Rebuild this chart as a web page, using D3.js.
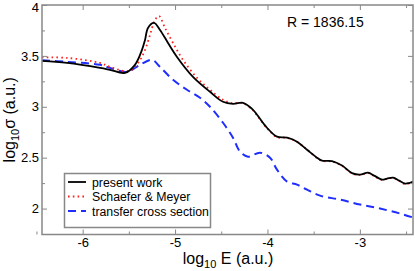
<!DOCTYPE html>
<html>
<head>
<meta charset="utf-8">
<script src="https://cdn.jsdelivr.net/npm/d3@7"></script>
<style>
  body { margin: 0; background: #fff; }
</style>
</head>
<body>
<svg id="chart" width="415" height="271"></svg>
<script>
// log10 E values and log10 sigma values
const presentX = [-6.44, -6.169, -5.812, -5.704, -5.542, -5.434, -5.358, -5.325, -5.293, -5.228, -5.163, -5.076, -4.979, -4.806, -4.622, -4.481, -4.373, -4.265, -4.167, -4.113, -4.005, -3.897, -3.788, -3.68, -3.572, -3.464, -3.41, -3.302, -3.193, -3.085, -2.998, -2.912, -2.846, -2.76, -2.706, -2.641, -2.576, -2.512, -2.468, -2.425];
const presentY = [3.451, 3.431, 3.382, 3.363, 3.333, 3.412, 3.559, 3.657, 3.775, 3.824, 3.755, 3.627, 3.49, 3.294, 3.147, 3.049, 3.029, 3.039, 2.98, 2.922, 2.794, 2.706, 2.696, 2.657, 2.578, 2.5, 2.471, 2.466, 2.422, 2.348, 2.333, 2.353, 2.324, 2.284, 2.294, 2.304, 2.275, 2.245, 2.25, 2.265];

const schaeferX = [-6.44, -6.169, -5.812, -5.704, -5.488, -5.379, -5.325, -5.271, -5.217, -5.174, -5.109, -5.022, -4.914, -4.762, -4.622, -4.481, -4.373, -4.265, -4.167, -4.113, -4.005, -3.897, -3.788, -3.68, -3.572, -3.464, -3.41, -3.302, -3.193, -3.085, -2.998, -2.912, -2.846, -2.76, -2.706, -2.641, -2.576, -2.512, -2.468, -2.425];
const schaeferY = [3.485, 3.48, 3.431, 3.392, 3.353, 3.461, 3.559, 3.706, 3.853, 3.892, 3.775, 3.627, 3.461, 3.284, 3.167, 3.069, 3.034, 3.035, 2.975, 2.915, 2.79, 2.7, 2.695, 2.655, 2.58, 2.495, 2.468, 2.462, 2.42, 2.345, 2.33, 2.35, 2.32, 2.28, 2.292, 2.3, 2.272, 2.24, 2.248, 2.262];

const transferX = [-6.44, -6.169, -5.812, -5.704, -5.52, -5.379, -5.25, -5.163, -5.022, -4.871, -4.73, -4.622, -4.481, -4.373, -4.297, -4.211, -4.081, -3.972, -3.897, -3.788, -3.68, -3.572, -3.431, -3.215, -2.998, -2.782, -2.565, -2.425];
const transferY = [3.456, 3.441, 3.412, 3.382, 3.343, 3.412, 3.461, 3.392, 3.265, 3.167, 3.088, 3.0, 2.843, 2.696, 2.559, 2.51, 2.549, 2.5, 2.382, 2.265, 2.235, 2.186, 2.127, 2.088, 2.039, 2.0, 1.951, 1.912];

const xMajor = [-6, -5, -4, -3];
const xMinor = [-6.5, -5.5, -4.5, -3.5, -2.5];
const yMajor = [2, 2.5, 3, 3.5, 4];
const yMinor = [1.75, 2.25, 2.75, 3.25, 3.75];
const legendLabels = ['present work', 'Schaefer & Meyer', 'transfer cross section'];

const font = '"Liberation Sans", Arial, sans-serif';
const svg = d3.select('#chart');
const pLeft = 42, pRight = 413, pTop = 5, pBottom = 234.5;
const axisColor = '#888';

const x = d3.scaleLinear().domain([-6.44, -2.425]).range([pLeft, pRight]);
const y = d3.scaleLinear().domain([1.745, 4]).range([pBottom, pTop]);

const plot = svg.append('g');
plot.append('clipPath').attr('id', 'clip')
  .append('rect').attr('x', pLeft).attr('y', pTop).attr('width', pRight - pLeft).attr('height', pBottom - pTop);

const line = d3.line().x(d => x(d[0])).y(d => y(d[1])).curve(d3.curveCatmullRom.alpha(0.5));

const series = [
  {xs: transferX, ys: transferY, color: '#1f2eff', dash: '8,5', width: 2},
  {xs: schaeferX, ys: schaeferY, color: '#ff2020', dash: '1.6,3.2', width: 1.8},
  {xs: presentX, ys: presentY, color: '#000', dash: null, width: 1.8}
];

const lines = plot.append('g').attr('clip-path', 'url(#clip)');
series.forEach(s => {
  lines.append('path')
    .datum(d3.zip(s.xs, s.ys))
    .attr('fill', 'none')
    .attr('stroke', s.color)
    .attr('stroke-width', s.width)
    .attr('stroke-dasharray', s.dash)
    .attr('d', line);
});

// axes on all four sides, ticks pointing inward
function styleAxis(g) {
  g.attr('font-family', font);
  g.select('.domain').remove();
  g.selectAll('.tick line').attr('stroke', axisColor).attr('stroke-width', 1);
  g.selectAll('.tick text').attr('fill', '#000').attr('font-size', 13);
}
const fmt = d => String(d);
svg.append('g').attr('transform', 'translate(0,' + pBottom + ')')
  .call(d3.axisBottom(x).tickValues(xMajor).tickSize(-5).tickPadding(3.5).tickFormat(fmt))
  .call(styleAxis);
svg.append('g').attr('transform', 'translate(0,' + pBottom + ')')
  .call(d3.axisBottom(x).tickValues(xMinor).tickSize(-3).tickFormat(''))
  .call(styleAxis);
svg.append('g').attr('transform', 'translate(0,' + pTop + ')')
  .call(d3.axisTop(x).tickValues(xMajor).tickSize(-5).tickFormat(''))
  .call(styleAxis);
svg.append('g').attr('transform', 'translate(0,' + pTop + ')')
  .call(d3.axisTop(x).tickValues(xMinor).tickSize(-3).tickFormat(''))
  .call(styleAxis);
svg.append('g').attr('transform', 'translate(' + pLeft + ',0)')
  .call(d3.axisLeft(y).tickValues(yMajor).tickSize(-5).tickPadding(3).tickFormat(fmt))
  .call(styleAxis)
  .call(g => g.selectAll('.tick text').filter(d => d === 4).attr('dy', '0.5em'));
svg.append('g').attr('transform', 'translate(' + pLeft + ',0)')
  .call(d3.axisLeft(y).tickValues(yMinor).tickSize(-3).tickFormat(''))
  .call(styleAxis);
svg.append('g').attr('transform', 'translate(' + pRight + ',0)')
  .call(d3.axisRight(y).tickValues(yMajor).tickSize(-5).tickFormat(''))
  .call(styleAxis);
svg.append('g').attr('transform', 'translate(' + pRight + ',0)')
  .call(d3.axisRight(y).tickValues(yMinor).tickSize(-3).tickFormat(''))
  .call(styleAxis);

svg.append('rect')
  .attr('x', pLeft).attr('y', pTop).attr('width', pRight - pLeft).attr('height', pBottom - pTop)
  .attr('fill', 'none').attr('stroke', axisColor).attr('stroke-width', 1.5);

// axis titles
const xt = svg.append('text').attr('x', 228).attr('y', 264).attr('text-anchor', 'middle')
  .attr('font-family', font).attr('font-size', 16);
xt.append('tspan').text('log');
xt.append('tspan').text('10').attr('dy', 4).attr('font-size', 11);
xt.append('tspan').text(' E (a.u.)').attr('dy', -4);

const yt = svg.append('text').attr('transform', 'translate(15,' + ((pTop + pBottom) / 2) + ') rotate(-90)')
  .attr('text-anchor', 'middle').attr('font-family', font).attr('font-size', 16);
yt.append('tspan').text('log');
yt.append('tspan').text('10').attr('dy', 4).attr('font-size', 11);
yt.append('tspan').text('σ (a.u.)').attr('dy', -4);

svg.append('text').attr('x', 287).attr('y', 27).attr('font-family', font).attr('font-size', 14).text('R = 1836.15');

// legend
const lg = svg.append('g');
lg.append('rect').attr('x', 64.5).attr('y', 173.5).attr('width', 146).attr('height', 54)
  .attr('fill', '#fff').attr('stroke', axisColor).attr('stroke-width', 1.5);
const legendSeries = [series[2], series[1], series[0]];
legendLabels.forEach((label, i) => {
  const yy = 182 + i * 14.5;
  lg.append('line').attr('x1', 68).attr('x2', 86).attr('y1', yy).attr('y2', yy)
    .attr('stroke', legendSeries[i].color).attr('stroke-width', legendSeries[i].width)
    .attr('stroke-dasharray', legendSeries[i].dash);
  lg.append('text').attr('x', 92).attr('y', yy + 4.5).attr('font-family', font).attr('font-size', 12.3).text(label);
});
</script>
</body>
</html>
